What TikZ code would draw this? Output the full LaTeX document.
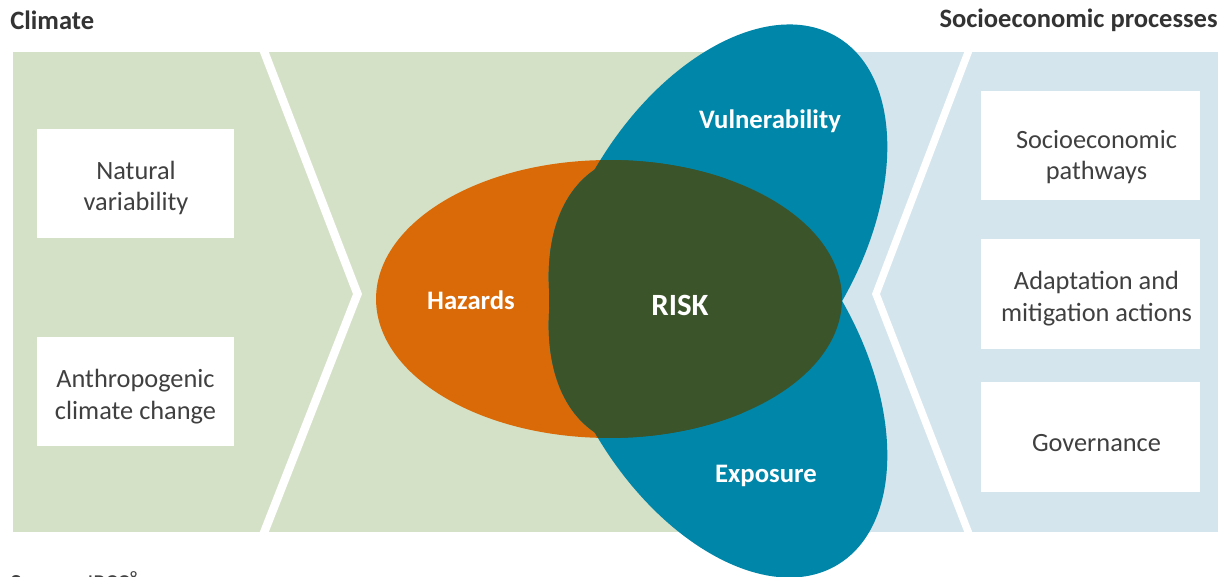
\documentclass[tikz,border=0pt]{standalone}
\usepackage{fontspec}
\setmainfont{Carlito}
\definecolor{climategreen}{HTML}{D5E1C7}
\definecolor{socioblue}{HTML}{D4E5EE}
\definecolor{hazardorange}{HTML}{D96A07}
\definecolor{vulnteal}{HTML}{0086A8}
\definecolor{riskgreen}{HTML}{3B5429}
\definecolor{textgrey}{HTML}{404040}
\definecolor{headgrey}{HTML}{333333}

\begin{document}
\begin{tikzpicture}[x=0.02cm,y=-0.02cm,
    whitebox/.style={fill=white,inner sep=0pt},
    boxtext/.style={text=textgrey,align=center,inner sep=0pt,font=\fontsize{15}{18.1}\selectfont},
    ovaltext/.style={text=white,font=\bfseries\fontsize{15.2}{18}\selectfont},
    headtext/.style={text=headgrey,inner sep=0pt,font=\bfseries\fontsize{15.1}{18}\selectfont}]
\useasboundingbox (0,0) rectangle (1231,577);

\fill[climategreen] (13,52) rectangle (800,532) ; % climate panel
\fill[socioblue] (800,52) rectangle (1218,532) ; % socioeconomic panel
\fill[white] (259,50) -- (353,294) -- (259,534) -- (268,534) -- (362,294) -- (268,50) -- cycle ; % left chevron
\fill[white] (965,50) -- (872,294) -- (965,534) -- (973,534) -- (880,294) -- (973,50) -- cycle ; % right chevron

\fill[hazardorange] (609,299) ellipse [x radius=4.66cm, y radius=2.78cm] ; % hazards
\fill[vulnteal, rotate around={59:(718,236)}] (718,236) ellipse [x radius=4.64cm, y radius=2.8cm] ; % vulnerability
\fill[vulnteal, rotate around={-59:(718,366)}] (718,366) ellipse [x radius=4.64cm, y radius=2.8cm] ; % exposure
\begin{scope}
  \clip (609,299) ellipse [x radius=4.66cm, y radius=2.78cm] ;
  \fill[riskgreen, rotate around={59:(718,236)}] (718,236) ellipse [x radius=4.64cm, y radius=2.8cm] ;
  \fill[riskgreen, rotate around={-59:(718,366)}] (718,366) ellipse [x radius=4.64cm, y radius=2.8cm] ;
  \fill[riskgreen] (640,301) ellipse [x radius=1.82cm, y radius=1.8cm] ; % risk, left edge
\end{scope}

\node[headtext, anchor=west] (climate) at (10,20) {Climate};
\node[headtext, anchor=east] (socio) at (1218,20) {Socioeconomic processes};

% boxes, left
\node[whitebox, minimum width=3.94cm, minimum height=2.18cm] (naturalbox) at (135.5,183.5) {};
\node[whitebox, minimum width=3.94cm, minimum height=2.18cm] (anthrobox) at (135.5,391.5) {};
\node[boxtext] (natural) at (136,188) {Natural\\variability};
\node[boxtext] (anthro) at (135.5,397) {Anthropogenic\\climate change};
% boxes, right
\node[whitebox, minimum width=4.38cm, minimum height=2.2cm] (pathwaysbox) at (1090.5,145.5) {};
\node[whitebox, minimum width=4.38cm, minimum height=2.2cm] (adaptationbox) at (1090.5,294) {};
\node[whitebox, minimum width=4.38cm, minimum height=2.2cm] (governancebox) at (1090.5,437) {};
\node[boxtext] (pathways) at (1096.5,157) {Socioeconomic\\pathways};
\node[boxtext] (adaptation) at (1096.5,299) {Adaptation and\\mitigation actions};
\node[boxtext] (governance) at (1096.5,443) {Governance};

\node[ovaltext] (hazards) at (471,300) {Hazards};
\node[ovaltext, font=\bfseries\fontsize{17.6}{20}\selectfont] (risk) at (680,305) {RISK};
\node[ovaltext] (vulnerability) at (770,121) {Vulnerability};
\node[ovaltext] (exposure) at (766,476) {Exposure};

\node[anchor=base west, inner sep=0pt, text=textgrey, font=\fontsize{13}{15}\selectfont] (source) at (10,590) {\textbf{Source:} IPCC\textsuperscript{8}};
\end{tikzpicture}
\end{document}
